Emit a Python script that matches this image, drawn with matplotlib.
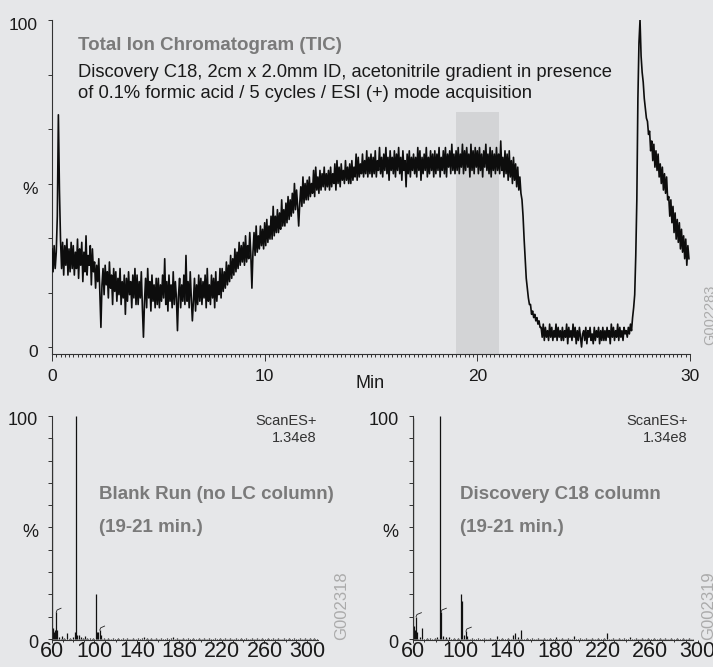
import numpy as np
import matplotlib
matplotlib.use('Agg')
import matplotlib.pyplot as plt
from matplotlib.ticker import MultipleLocator, FixedLocator
from matplotlib.transforms import ScaledTranslation

plt.rcParams['font.family'] = ['Liberation Sans', 'DejaVu Sans']

# TIC trace, % of max, one reading every 0.05 min (one row = one minute)
tic_values = [
    30, 23, 31, 24, 29, 40, 71, 48, 33, 24, 32, 22, 31, 25, 33, 22, 30, 23, 32, 24,
    31, 22, 29, 24, 33, 21, 30, 25, 32, 20, 29, 23, 34, 22, 28, 25, 31, 19, 30, 23,
    26, 18, 25, 20, 27, 17, 6, 19, 24, 16, 25, 19, 23, 15, 26, 18, 22, 13, 24, 17,
    23, 14, 21, 16, 24, 13, 20, 15, 22, 10, 21, 14, 23, 16, 20, 12, 22, 15, 24, 13,
    22, 13, 20, 15, 23, 12, 3, 14, 21, 12, 24, 15, 20, 11, 22, 14, 19, 12, 21, 13,
    21, 12, 19, 14, 22, 15, 27, 13, 20, 11, 22, 14, 19, 12, 23, 13, 20, 15, 5, 16,
    21, 12, 19, 14, 22, 13, 28, 14, 20, 12, 23, 15, 8, 14, 21, 11, 19, 13, 22, 14,
    21, 13, 20, 15, 22, 12, 24, 14, 19, 13, 22, 15, 21, 12, 23, 14, 20, 16, 24, 15,
    24, 17, 23, 18, 26, 19, 25, 20, 28, 21, 27, 22, 30, 23, 29, 24, 32, 25, 31, 26,
    32, 25, 34, 26, 31, 27, 35, 28, 18, 29, 35, 28, 37, 29, 34, 30, 37, 31, 36, 30,
    38, 31, 39, 32, 37, 33, 40, 33, 43, 34, 40, 35, 42, 35, 41, 36, 45, 37, 42, 37,
    44, 38, 46, 39, 45, 40, 47, 41, 50, 42, 48, 43, 37, 44, 49, 43, 52, 44, 50, 45,
    51, 45, 52, 46, 50, 47, 54, 46, 55, 48, 52, 47, 54, 48, 53, 49, 55, 48, 53, 49,
    54, 48, 55, 49, 53, 50, 56, 48, 57, 50, 55, 49, 56, 51, 54, 50, 57, 51, 55, 50,
    56, 50, 57, 51, 55, 52, 59, 51, 58, 52, 56, 53, 59, 52, 57, 53, 60, 52, 58, 53,
    59, 52, 58, 53, 60, 52, 57, 54, 61, 53, 58, 52, 59, 54, 61, 53, 58, 51, 60, 54,
    58, 53, 60, 52, 59, 54, 61, 53, 58, 51, 60, 54, 57, 49, 59, 53, 60, 52, 58, 54,
    59, 53, 58, 52, 61, 54, 60, 51, 58, 53, 59, 54, 61, 52, 58, 53, 60, 54, 59, 52,
    60, 53, 59, 54, 61, 52, 58, 54, 60, 53, 61, 52, 59, 55, 60, 53, 62, 54, 59, 53,
    60, 54, 61, 53, 59, 55, 62, 53, 60, 54, 61, 55, 59, 52, 62, 54, 60, 53, 61, 55,
    60, 53, 61, 54, 59, 52, 60, 55, 62, 54, 59, 53, 61, 52, 60, 54, 59, 53, 61, 54,
    59, 53, 63, 54, 58, 52, 60, 53, 59, 51, 60, 52, 57, 50, 58, 51, 56, 49, 55, 48,
    52, 47, 45, 40, 33, 27, 21, 18, 15, 13, 13, 10, 11, 9, 10, 8, 9, 7, 8, 6,
    6, 3, 7, 2, 6, 3, 5, 2, 7, 3, 6, 2, 5, 3, 7, 2, 6, 3, 5, 2,
    6, 2, 5, 3, 7, 1, 6, 3, 5, 2, 7, 3, 6, 1, 5, 2, 6, 3, 0, 4,
    5, 2, 6, 1, 5, 3, 6, 2, 4, 1, 6, 2, 5, 3, 6, 1, 5, 2, 6, 2,
    5, 2, 6, 3, 5, 1, 7, 3, 6, 2, 5, 3, 7, 2, 6, 3, 5, 2, 6, 4,
    5, 3, 6, 4, 7, 5, 9, 12, 16, 28, 45, 76, 93, 100, 89, 84, 81, 76, 73, 70,
    69, 65, 66, 60, 63, 57, 62, 55, 60, 54, 59, 52, 56, 50, 55, 48, 53, 47, 52, 45,
    46, 40, 45, 38, 43, 35, 41, 33, 39, 32, 38, 30, 36, 29, 34, 27, 33, 25, 31, 27,
]
tic_step = 0.05

window = (19, 21)
window_top = 72

# mass spectra (19-21 min), m/z and relative intensity %
blank_mz = [60, 61, 62, 63, 64, 65, 67, 69, 71, 74, 77, 80, 82, 83, 84, 85,
            87, 89, 91, 93, 96, 99, 101, 102, 103, 105, 106, 109, 113, 117,
            122, 127, 131, 136, 141, 145, 147, 149, 153, 158, 163, 168, 172,
            174, 178, 183, 188, 193, 198, 203, 208, 213, 218, 223, 228, 233,
            238, 243, 248, 253, 258, 263, 268, 273, 278, 283, 288, 293, 298,
            303, 307]
blank_int = [90, 5, 3, 4, 12, 4, 1, 1.5, 0.6, 2.5, 0.5, 1, 3, 100, 2, 2,
             0.8, 0.6, 1.5, 0.5, 0.4, 0.6, 20, 3, 3, 4, 2, 0.6, 0.4, 0.5,
             0.3, 0.4, 0.3, 0.4, 0.3, 0.6, 0.9, 0.5, 0.3, 0.4, 0.3, 0.4, 0.5,
             0.9, 0.4, 0.3, 0.4, 0.3, 0.4, 0.3, 0.4, 0.3, 0.4, 0.3, 0.4, 0.3,
             0.3, 0.4, 0.3, 0.4, 0.3, 0.4, 0.3, 0.4, 0.3, 0.4, 0.3, 0.3, 0.4,
             0.3, 0.3]
blank_hooks = [64, 105]

c18_mz = [60, 61, 62, 63, 64, 66, 68, 72, 75, 79, 81, 83, 84, 86, 88, 91,
          95, 98, 101, 102, 103, 105, 106, 110, 115, 120, 125, 131, 135, 140,
          145, 146, 149, 151, 156, 161, 166, 171, 176, 181, 186, 191, 196,
          201, 206, 211, 216, 221, 224, 229, 234, 238, 243, 248, 253, 258,
          263, 268, 273, 278, 283, 288, 293]
c18_int = [99, 6, 4, 10, 3, 1, 5, 0.5, 0.5, 0.6, 1, 100, 12, 1.5, 0.8, 1,
           0.4, 0.5, 20, 17, 2, 3.5, 1.2, 0.5, 0.4, 0.3, 0.4, 1.2, 0.4, 0.3,
           2.0, 2.5, 1, 4.2, 0.4, 0.3, 0.4, 0.3, 0.4, 0.8, 0.4, 0.3, 1.5,
           0.3, 0.4, 0.3, 0.4, 0.3, 2.7, 0.4, 0.3, 0.3, 0.8, 0.3, 0.4, 0.3,
           0.4, 0.3, 0.4, 0.3, 0.4, 0.3, 0.3]
c18_hooks = [63, 84, 105]

mz_ticks = [60, 100, 140, 180, 220, 260, 300]

bg = '#e6e7e9'
ink = '#1a1a1a'
grey_txt = '#7a7a7a'
mark = '#ababab'

fig = plt.figure(figsize=(7.13, 6.67), dpi=100, facecolor=bg)
W, H = 713.0, 667.0


def style_axes(ax):
    ax.set_facecolor('none')
    for s in ('top', 'right'):
        ax.spines[s].set_visible(False)
    for s in ('left', 'bottom'):
        ax.spines[s].set_color('#333333')
        ax.spines[s].set_linewidth(0.8)
    ax.tick_params(which='both', direction='out', color='#333333',
                   labelcolor=ink, width=0.7)


def shift_labels(labels, dy_pt):
    for lab in labels:
        lab.set_transform(lab.get_transform() +
                          ScaledTranslation(0, dy_pt / 72, fig.dpi_scale_trans))


# ---- TIC ----
ax = fig.add_axes([52 / W, 1 - 354 / H, 638 / W, 334 / H])
style_axes(ax)
tic_time = np.arange(len(tic_values)) * tic_step
ax.fill_between(window, -2.14, window_top, color='#d3d4d6', lw=0, zorder=0)
ax.plot(tic_time, tic_values, color='#0d0d0d', lw=1.2, zorder=3)
ax.set_xlim(0, 30)
ax.set_ylim(-2.14, 100)
ax.set_xticks([0, 10, 20, 30])
ax.xaxis.set_minor_locator(MultipleLocator(0.2))
ax.set_yticks(np.linspace(0, 100, 7))
ax.set_yticklabels(['0', '', '', '%', '', '', '100'])
ax.tick_params(axis='x', which='major', length=5, pad=6, labelsize=12.5)
ax.tick_params(axis='x', which='minor', length=2.5)
ax.tick_params(axis='y', length=3, pad=7, labelsize=12.5)
shift_labels(ax.get_yticklabels(), -3)
fig.text(370 / W, 1 - 383 / H, 'Min', fontsize=13, color=ink,
         ha='center', va='center')
ax.text(1.22, 90.8, 'Total Ion Chromatogram (TIC)', fontsize=13.5,
        fontweight='bold', color=grey_txt, va='baseline')
ax.text(1.22, 82.5, 'Discovery C18, 2cm x 2.0mm ID, acetonitrile gradient in presence',
        fontsize=13.2, color=ink, va='baseline')
ax.text(1.22, 76.2, 'of 0.1% formic acid / 5 cycles / ESI (+) mode acquisition',
        fontsize=13.2, color=ink, va='baseline')
fig.text(703 / W, 1 - 345 / H, 'G002283', rotation=90, fontsize=10.5,
         color=mark, ha='left', va='bottom')


# ---- mass spectra ----
def spectrum(rect, mz, inten, hooks, xmax, spine_end, title, tag, tag_x,
             scan_x, lab_x):
    a = fig.add_axes(rect)
    style_axes(a)
    a.vlines(mz, 0, inten, color='#111111', lw=0.9)
    lookup = dict(zip(mz, inten))
    for m in hooks:
        h = lookup[m]
        a.plot([m, m + 0.8, m + 4.5], [h, h + 1.0, h + 1.8],
               color='#222222', lw=0.6)
    a.plot([60, spine_end], [0.15, 0.15], color='#555555', lw=0.6,
           ls=(0, (1, 1.5)))
    a.set_xlim(60, xmax)
    a.set_ylim(-0.45, 100)
    a.spines['bottom'].set_bounds(60, spine_end)
    a.set_xticks(mz_ticks)
    a.xaxis.set_minor_locator(FixedLocator(np.arange(60, spine_end, 10)))
    a.set_yticks(np.arange(0, 101, 10))
    a.set_yticklabels(['0', '', '', '', '', '%', '', '', '', '', '100'])
    a.tick_params(axis='x', which='major', length=2, pad=1, labelsize=15.5)
    a.tick_params(axis='x', which='minor', length=1.5)
    a.tick_params(axis='y', length=3, pad=7, labelsize=13)
    shift_labels(a.get_yticklabels(), -2)
    shift_labels(a.get_xticklabels(), 2)
    a.text(scan_x, 96, 'ScanES+', fontsize=10.5, color='#333333',
           ha='right', va='baseline')
    a.text(scan_x, 88.3, '1.34e8', fontsize=10.5, color='#333333',
           ha='right', va='baseline')
    a.text(lab_x, 62.6, title, fontsize=13.5, fontweight='bold',
           color=grey_txt, va='baseline')
    a.text(lab_x, 47.8, '(19-21 min.)', fontsize=13.5, fontweight='bold',
           color=grey_txt, va='baseline')
    fig.text(tag_x / W, 1 - 640 / H, tag, rotation=90, fontsize=12,
             color=mark, ha='left', va='bottom')
    return a


spectrum([52 / W, 27 / H, 265.6 / W, 224 / H], blank_mz, blank_int,
         blank_hooks, 310, 310, 'Blank Run (no LC column)', 'G002318', 334,
         309.4, 104.2)
spectrum([412.5 / W, 27 / H, 285 / W, 224 / H], c18_mz, c18_int,
         c18_hooks, 300, 296, 'Discovery C18 column', 'G002319', 701,
         291.6, 99.6)

fig.savefig('out.png', dpi=100, facecolor=bg)
